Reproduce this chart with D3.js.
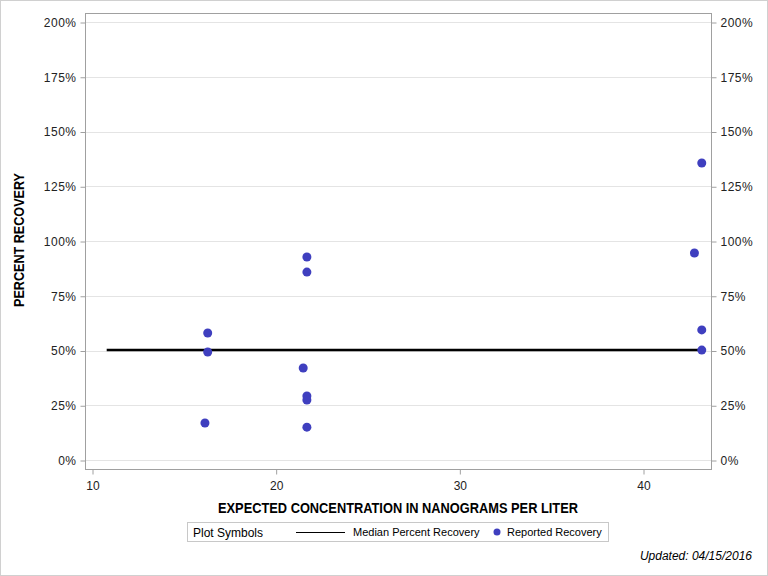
<!DOCTYPE html>
<html>
<head>
<meta charset="utf-8">
<script src="https://cdn.jsdelivr.net/npm/d3@7"></script>
<style>
  body { margin: 0; background: #fff; }
  svg { display: block; }
  .tick text { font-family: "Liberation Sans", Arial, sans-serif; font-size: 12px; fill: #222; }
</style>
</head>
<body>
<svg id="chart" width="768" height="576"></svg>
<script>
// --- data
const pointX = [16.15, 16.3, 16.3, 21.5, 21.7, 21.7, 21.7, 21.7, 21.7, 42.8, 43.2, 43.2, 43.2];
const pointY = [16.9, 49.3, 58.0, 42.0, 92.7, 85.8, 29.2, 27.4, 15.0, 94.5, 135.6, 59.4, 50.2];
const medianX = [10.8, 43.2];
const medianY = [50.2, 50.2];
const xTicks = [10, 20, 30, 40];
const yTicks = [0, 25, 50, 75, 100, 125, 150, 175, 200];

const DOT_COLOR = '#3f3fbf';
const FONT = '"Liberation Sans", Arial, sans-serif';

const frame = { left: 85, right: 711, top: 13, bottom: 469 };

function drawChart() {
    const svg = d3.select('#chart');

    // outer border
    svg.append('rect')
        .attr('x', 0.5).attr('y', 0.5)
        .attr('width', 767).attr('height', 575)
        .attr('fill', '#fff')
        .attr('stroke', '#d0d0d0');

    const x = d3.scaleLinear().domain([10, 40]).range([92, 643]);
    const y = d3.scaleLinear().domain([0, 200]).range([460, 22]);

    // gridlines
    svg.append('g')
        .selectAll('line')
        .data(yTicks)
        .enter()
        .append('line')
        .attr('x1', frame.left).attr('x2', frame.right)
        .attr('y1', d => Math.round(y(d)) + 0.5)
        .attr('y2', d => Math.round(y(d)) + 0.5)
        .attr('stroke', '#e4e4e4');

    // frame
    svg.append('rect')
        .attr('x', frame.left + 0.5).attr('y', frame.top + 0.5)
        .attr('width', frame.right - frame.left).attr('height', frame.bottom - frame.top)
        .attr('fill', 'none')
        .attr('stroke', '#a0a0a0');

    const pct = d => d + '%';

    const yLeft = svg.append('g')
        .attr('transform', `translate(${frame.left + 0.5},0.5)`)
        .call(d3.axisLeft(y).tickValues(yTicks).tickFormat(pct).tickSize(5).tickPadding(4));
    const yRight = svg.append('g')
        .attr('transform', `translate(${frame.right + 0.5},0.5)`)
        .call(d3.axisRight(y).tickValues(yTicks).tickFormat(pct).tickSize(5).tickPadding(4));
    const xBottom = svg.append('g')
        .attr('transform', `translate(0.5,${frame.bottom + 0.5})`)
        .call(d3.axisBottom(x).tickValues(xTicks).tickSize(5).tickPadding(7));

    [yLeft, yRight, xBottom].forEach(g => {
        g.select('.domain').remove();
        g.selectAll('.tick line').attr('stroke', '#a0a0a0');
    });
    yLeft.selectAll('.tick text').attr('letter-spacing', 0.5);
    yRight.selectAll('.tick text').attr('letter-spacing', 0.5);

    // median line
    const lineFn = d3.line()
        .x(d => x(d[0]))
        .y(d => y(d[1]));

    svg.append('path')
        .datum(medianX.map((v, i) => [v, medianY[i]]))
        .attr('fill', 'none')
        .attr('stroke', '#000')
        .attr('stroke-width', 2.5)
        .attr('d', lineFn);

    // points
    svg.append('g')
        .selectAll('circle')
        .data(pointX.map((v, i) => [v, pointY[i]]))
        .enter()
        .append('circle')
        .attr('cx', d => x(d[0]))
        .attr('cy', d => y(d[1]))
        .attr('r', 4.5)
        .attr('fill', DOT_COLOR);

    // axis titles (condensed look via textLength)
    svg.append('text')
        .attr('x', 398).attr('y', 513)
        .attr('text-anchor', 'middle')
        .attr('font-family', FONT)
        .attr('font-weight', 'bold')
        .attr('font-size', 14)
        .attr('textLength', 360)
        .attr('lengthAdjust', 'spacingAndGlyphs')
        .text('EXPECTED CONCENTRATION IN NANOGRAMS PER LITER');

    svg.append('text')
        .attr('transform', 'translate(24,240) rotate(-90)')
        .attr('text-anchor', 'middle')
        .attr('font-family', FONT)
        .attr('font-weight', 'bold')
        .attr('font-size', 14)
        .attr('textLength', 134)
        .attr('lengthAdjust', 'spacingAndGlyphs')
        .text('PERCENT RECOVERY');

    drawLegend(svg);

    svg.append('text')
        .attr('x', 752).attr('y', 560)
        .attr('text-anchor', 'end')
        .attr('font-family', FONT)
        .attr('font-style', 'italic')
        .attr('font-size', 12)
        .attr('fill', '#000')
        .text('Updated: 04/15/2016');
}

function drawLegend(svg) {
    const g = svg.append('g');
    g.append('rect')
        .attr('x', 187.5).attr('y', 522.5)
        .attr('width', 421).attr('height', 19)
        .attr('fill', '#fff')
        .attr('stroke', '#c8c8c8');

    g.append('text')
        .attr('x', 193).attr('y', 536.5)
        .attr('font-family', FONT).attr('font-size', 12)
        .text('Plot Symbols');

    g.append('line')
        .attr('x1', 296).attr('x2', 345)
        .attr('y1', 532.5).attr('y2', 532.5)
        .attr('stroke', '#000').attr('stroke-width', 1);

    g.append('text')
        .attr('x', 353).attr('y', 536)
        .attr('font-family', FONT).attr('font-size', 11)
        .text('Median Percent Recovery');

    g.append('circle')
        .attr('cx', 497).attr('cy', 532)
        .attr('r', 3.5)
        .attr('fill', DOT_COLOR);

    g.append('text')
        .attr('x', 507).attr('y', 536)
        .attr('font-family', FONT).attr('font-size', 11)
        .text('Reported Recovery');
}

drawChart();
</script>
</body>
</html>
